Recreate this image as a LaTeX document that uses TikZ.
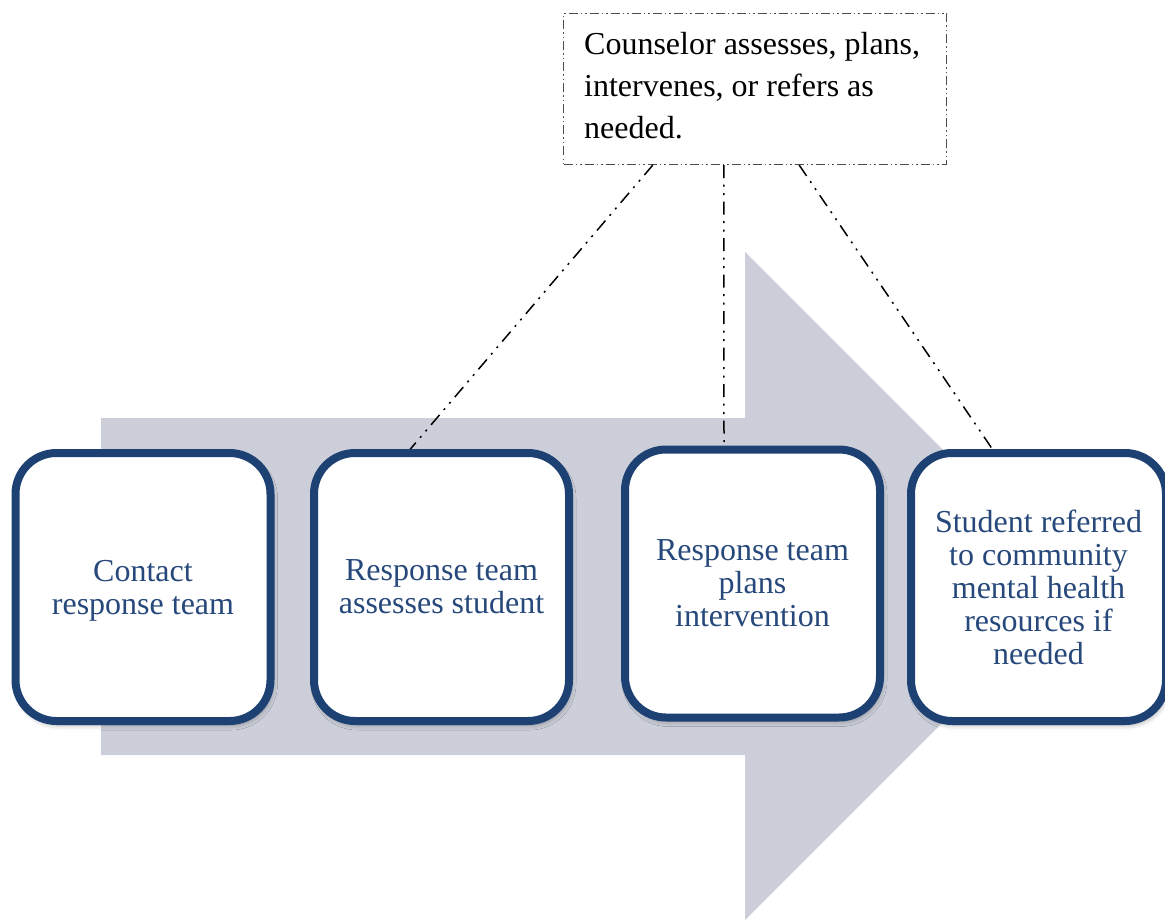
\documentclass[tikz,border=0pt]{standalone}
\usepackage{fontspec}
\setmainfont{Liberation Serif}
\usetikzlibrary{calc,shadows.blur}
\definecolor{arrowgray}{RGB}{204,207,217}
\definecolor{boxblue}{RGB}{30,65,115}
\definecolor{textblue}{RGB}{38,72,122}
\tikzset{
  stepbox/.style={draw=boxblue, line width=8pt, fill=white, rounded corners=41pt,
    minimum width=255pt, minimum height=268pt, align=center, text=textblue,
    text depth=0pt, font=\fontsize{32}{33}\selectfont,
    blur shadow={shadow xshift=2pt, shadow yshift=-4pt, shadow blur radius=5pt, shadow opacity=35}},
  topbox/.style={draw=black!70, line width=1.2pt, minimum width=383pt, minimum height=151pt,
    dash pattern=on 9pt off 3pt on 1.5pt off 3pt on 1.5pt off 3pt},
  toptext/.style={anchor=north west, align=left, inner sep=0pt, text=black,
    font=\fontsize{32}{42}\selectfont},
  link/.style={draw=black, line width=1.5pt,
    dash pattern=on 13pt off 6.5pt on 2pt off 6.5pt on 2pt off 6.5pt}
}
\begin{document}
\begin{tikzpicture}[x=1pt,y=-1pt]
\useasboundingbox (0,0) rectangle (1165,923);
% big arrow
\fill[arrowgray] (101,418) -- (745,418) -- (745,252) -- (1079,586) -- (745,920) -- (745,755) -- (101,755) -- cycle;
% counselor box
\node[topbox] (cbox) at (755,89) {};
\node[toptext] (ctext) at (584,32.3) {Counselor assesses, plans,\\intervenes, or refers as\\needed.};
% step boxes
\coordinate (b1c) at (143,587);
\coordinate (b2c) at (441.5,587);
\coordinate (b3c) at (752.5,583.5);
\coordinate (b4c) at (1038.5,587);
% links (behind boxes)
\path (b2c) ++(0,-134) coordinate (b2n);
\path (b3c) ++(0,-134) coordinate (b3n);
\path (b4c) ++(0,-134) coordinate (b4n);
\draw[link] ($(cbox.south west)!0.234!(cbox.south east)$) -- ($(b2n)+(-34.5,0)$);
\draw[link] ($(cbox.south west)!0.419!(cbox.south east)$) -- ($(b3n)+(-28.5,0)$);
\draw[link] ($(cbox.south west)!0.615!(cbox.south east)$) -- ($(b4n)+(-43.5,0)$);
\node[stepbox] (b1) at (b1c) {Contact\\response team};
\node[stepbox] (b2) at (b2c) {Response team\\assesses student};
\node[stepbox] (b3) at (b3c) {Response team\\plans\\intervention};
\node[stepbox] (b4) at (b4c) {Student referred\\to community\\mental health\\resources if\\needed};
\end{tikzpicture}
\end{document}
